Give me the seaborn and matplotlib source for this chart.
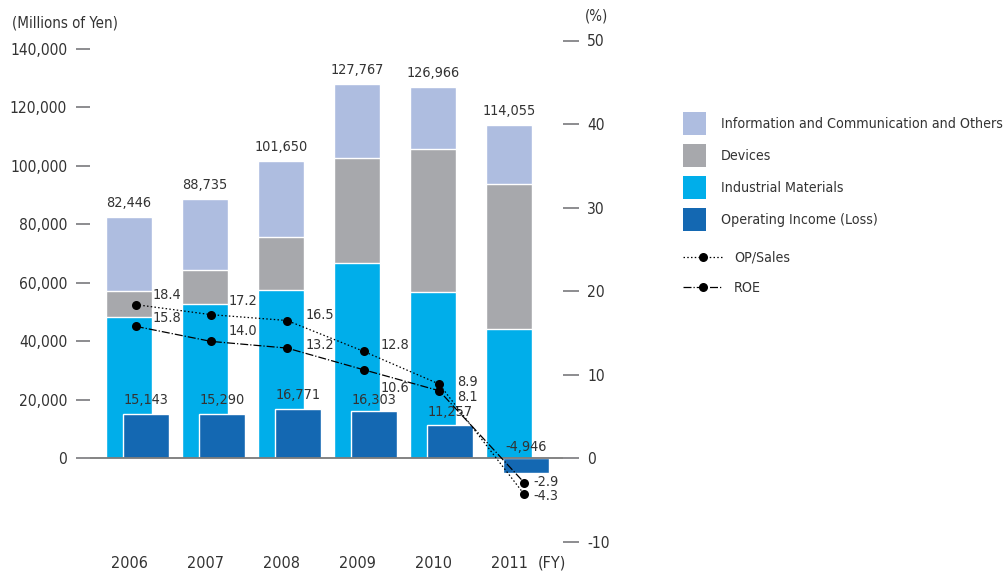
import numpy as np
import pandas as pd
import matplotlib
matplotlib.use("Agg")
import matplotlib.pyplot as plt
import seaborn as sns
from matplotlib import font_manager
from matplotlib.patches import Patch
from matplotlib.lines import Line2D

# ---------------- data ----------------
years = ["2006", "2007", "2008", "2009", "2010", "2011"]
industrial = [48300, 52900, 57700, 66600, 57000, 44100]
devices = [8900, 11300, 18100, 36100, 48800, 49800]
info = [25246, 24535, 25850, 25067, 21166, 20155]
totals = [82446, 88735, 101650, 127767, 126966, 114055]
op_income = [15143, 15290, 16771, 16303, 11257, -4946]
op_sales = [18.4, 17.2, 16.5, 12.8, 8.9, -4.3]
roe = [15.8, 14.0, 13.2, 10.6, 8.1, -2.9]
left_ticks = [0, 20000, 40000, 60000, 80000, 100000, 120000, 140000]
right_ticks = [-10, 0, 10, 20, 30, 40, 50]

# ---------------- style ----------------
C_INFO = "#aebde0"
C_DEV = "#a7a8ac"
C_IND = "#00aeea"
C_OP = "#1468b2"
TXT = "#333333"
TICKC = "#6d6e71"

sns.set_theme(style="white")

# choose a condensed face if available
names = {(f.name, str(f.stretch)) for f in font_manager.fontManager.ttflist}
fam_names = {n for n, s in names}
stretch = "normal"
scale = 1.0
if "Liberation Sans Narrow" in fam_names:
    family = ["Liberation Sans Narrow", "DejaVu Sans"]
elif any(n == "DejaVu Sans" and s not in ("normal", "400") for n, s in names):
    family = ["DejaVu Sans", "Liberation Sans"]
    stretch = "condensed"
    scale = 0.83
elif "Roboto Condensed" in fam_names:
    family = ["Roboto Condensed", "DejaVu Sans"]
else:
    family = ["Liberation Sans", "DejaVu Sans"]
    scale = 0.80
plt.rcParams["font.family"] = family
plt.rcParams["font.stretch"] = stretch
plt.rcParams["text.color"] = TXT


def F(s):
    return s * scale


fig = plt.figure(figsize=(10.06, 5.74), dpi=100)
W, H = 1006, 574
ax = fig.add_axes([90 / W, 32 / H, (563 - 90) / W, (542 - 40.5) / H])
ax2 = ax.twinx()

pos = np.arange(len(years))
op_shift = 0.224
bw = 0.605

cum_ind = np.array(industrial)
cum_dev = cum_ind + np.array(devices)
cum_info = cum_dev + np.array(info)

common = dict(native_scale=True, width=bw, saturation=1, edgecolor="white",
              linewidth=1.0, errorbar=None, ax=ax)
sns.barplot(x=pos, y=cum_info, color=C_INFO, **common)
sns.barplot(x=pos, y=cum_dev, color=C_DEV, **common)
sns.barplot(x=pos, y=cum_ind, color=C_IND, **common)
sns.barplot(x=pos + op_shift, y=op_income, color=C_OP, **common)

ax.axhline(0, color="#7a7a7a", lw=1.3, zorder=3)

# lines on right axis
pt_shift = np.array([0.09, 0.08, 0.08, 0.09, 0.08, 0.2])
DOT = (0, (1.2, 1.8))
sns.lineplot(x=pos + pt_shift, y=op_sales, ax=ax2, color="black", linestyle=DOT,
             linewidth=0.9, marker="o", markersize=6.5, markeredgecolor="black",
             markeredgewidth=0, sort=False)
sns.lineplot(x=pos + pt_shift, y=roe, ax=ax2, color="black", linestyle="-.",
             linewidth=0.9, marker="o", markersize=6.5, markeredgecolor="black",
             markeredgewidth=0, sort=False)

# axes limits / ticks
ax.set_xlim(-0.513, 5.71)
ax.set_ylim(-28550, 142760)
ax2.set_ylim(-10, 50)
ax.set_xticks(pos)
ax.set_xticklabels(years)
ax.set_yticks(left_ticks)
ax.set_yticklabels([f"{t:,}" for t in left_ticks])
ax2.set_yticks(right_ticks)
ax2.set_yticklabels([str(t) for t in right_ticks])
ax.set_xlabel("")
ax.set_ylabel("")
ax2.set_ylabel("")
for a in (ax, ax2):
    for s in a.spines.values():
        s.set_visible(False)
ax.tick_params(axis="x", length=0, pad=10, labelsize=F(14), labelcolor=TXT)
ax.tick_params(axis="y", left=True, direction="out", length=10, width=1.1,
               color=TICKC, pad=6.5, labelsize=F(13.5), labelcolor=TXT)
ax2.tick_params(axis="y", right=True, direction="out", length=11.5, width=1.1,
                color=TICKC, pad=6, labelsize=F(13.5), labelcolor=TXT)
ax.grid(False)
ax2.grid(False)

# total labels
for i, t in enumerate(totals):
    ax.annotate(f"{t:,}", xy=(pos[i], cum_info[i]), xytext=(0, 14),
                textcoords="offset pixels", ha="center", va="center", fontsize=F(12.5))
# op income labels
op_lab_dy = [14, 14, 14, 11, 13, 11]
for i, v in enumerate(op_income):
    ax.annotate(f"{v:,}", xy=(pos[i] + op_shift, max(v, 0)), xytext=(0, op_lab_dy[i]),
                textcoords="offset pixels", ha="center", va="center", fontsize=F(12.5),
                zorder=6)

op_off = [(17, 10), (17, 14), (18, 6), (17, 6), (18, 2), (9, -2)]
roe_off = [(17, 8), (17, 10), (18, 3), (17, -18), (18, -6), (9, 1)]
for i, v in enumerate(op_sales):
    ax2.annotate(f"{v:.1f}", xy=(pos[i] + pt_shift[i], v), xytext=op_off[i],
                 textcoords="offset pixels", ha="left", va="center", fontsize=F(12.5))
for i, v in enumerate(roe):
    ax2.annotate(f"{v:.1f}", xy=(pos[i] + pt_shift[i], v), xytext=roe_off[i],
                 textcoords="offset pixels", ha="left", va="center", fontsize=F(12.5))

# unit texts
fig.text(11.5 / W, 1 - 22.7 / H, "(Millions of Yen)", ha="left", va="center", fontsize=F(13))
fig.text(597 / W, 1 - 16 / H, "(%)", ha="center", va="center", fontsize=F(13))
fig.text(552 / W, 1 - 563 / H, "(FY)", ha="center", va="center", fontsize=F(14))

# legends
patch_handles = [Patch(facecolor=C_INFO, edgecolor="none"),
                 Patch(facecolor=C_DEV, edgecolor="none"),
                 Patch(facecolor=C_IND, edgecolor="none"),
                 Patch(facecolor=C_OP, edgecolor="none")]
patch_labels = ["Information and Communication and Others", "Devices",
                "Industrial Materials", "Operating Income (Loss)"]
fs = F(12.3)
px = fs * 100 / 72
hh = (23 / px - 0.245) / 0.65
leg1 = fig.legend(patch_handles, patch_labels, loc="upper left",
                  bbox_to_anchor=(683 / W, 1 - 112 / H), frameon=False,
                  fontsize=fs, handlelength=23 / px, handleheight=hh,
                  handletextpad=15 / px, labelspacing=9 / px, borderpad=0,
                  borderaxespad=0)
line_handles = [Line2D([0], [0], color="black", ls=DOT, lw=0.9, marker="o", ms=6.5, mew=0),
                Line2D([0], [0], color="black", ls="-.", lw=0.9, marker="o", ms=6.5, mew=0)]
leg2 = fig.legend(line_handles, ["OP/Sales", "ROE"], loc="upper left",
                  bbox_to_anchor=(683 / W, 1 - 250.5 / H), frameon=False,
                  fontsize=fs, handlelength=39 / px, handletextpad=12 / px,
                  labelspacing=16 / px, borderpad=0, borderaxespad=0, numpoints=1)
for leg in (leg1, leg2):
    for t in leg.get_texts():
        t.set_color(TXT)

fig.savefig("out.png", dpi=100)
